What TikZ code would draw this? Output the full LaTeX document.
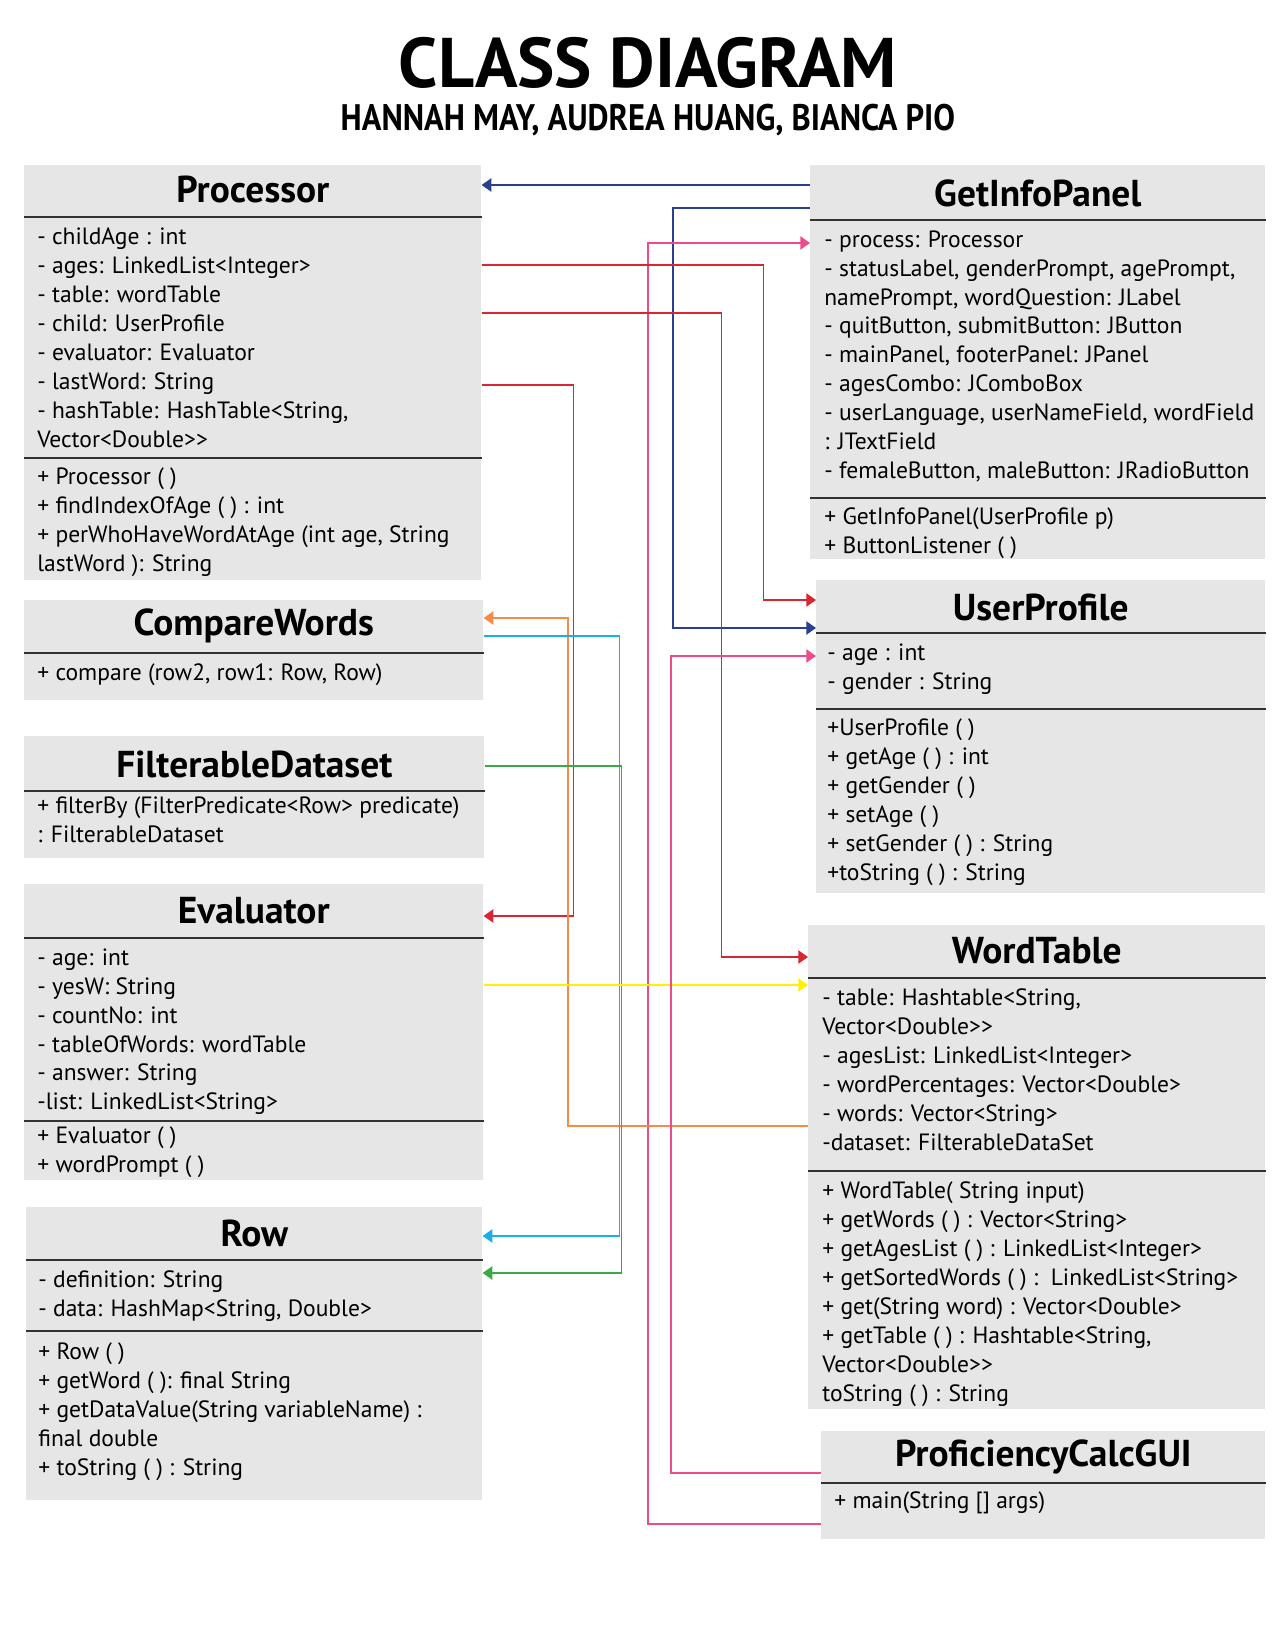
\documentclass[tikz,border=0pt]{standalone}
\usepackage{fontspec}
\setmainfont{PT Sans}
\newfontfamily\condfont[FakeStretch=0.88]{PT Sans}
\usepackage{xcolor}
\usetikzlibrary{arrows.meta}

\definecolor{boxgray}{HTML}{E6E6E6}
\definecolor{rulegray}{HTML}{333333}
\definecolor{navyline}{HTML}{2B3F92}
\definecolor{redline}{HTML}{D92632}
\definecolor{pinkline}{HTML}{EE4B8B}
\definecolor{orangeline}{HTML}{F58A4B}
\definecolor{cyanline}{HTML}{1CAEEB}
\definecolor{greenline}{HTML}{3AAA48}
\definecolor{yellowline}{HTML}{FFF200}

\begin{document}
\begin{tikzpicture}[
    x=0.02cm,
    y=-0.02cm,
    >={Triangle[length=5.5pt,width=7.5pt]},
    classbox/.style={fill=boxgray, anchor=north west, inner sep=0pt},
    classname/.style={font=\fontsize{21.3pt}{24pt}\selectfont\bfseries},
    members/.style={anchor=north west, align=left, inner sep=0pt, font=\fontsize{13.4pt}{16.5pt}\selectfont},
    divider/.style={draw=rulegray, line width=1pt},
    link/.style={->, line width=1pt}
]
\path[use as bounding box] (0,0) rectangle (1275,1650);

% heading
\node[font=\fontsize{40pt}{44pt}\selectfont\bfseries] (title) at (648,63) {CLASS DIAGRAM};
\node[font=\condfont\bfseries\fontsize{21pt}{24pt}\selectfont] (authors) at (648,120) {HANNAH MAY, AUDREA HUANG, BIANCA PIO};

% left column
\node[classbox, minimum width=9.14cm, minimum height=8.30cm] (proc) at (24,165) {};
\node[classname] (proc-name) at (proc.north |- 0,189) {Processor};
\draw[divider] (proc.west |- 0,217) -- (proc.east |- 0,217);
\node[members] (proc-attr) at (37,227) {- childAge : int\\- ages: LinkedList<Integer>\\- table: wordTable\\- child: UserProfile\\- evaluator: Evaluator\\- lastWord: String\\- hashTable: HashTable<String,\\Vector<Double>{}>};
\draw[divider] (proc.west |- 0,458) -- (proc.east |- 0,458);
\node[members] (proc-ops) at (37,467) {+ Processor ( )\\+ findIndexOfAge ( ) : int\\+ perWhoHaveWordAtAge (int age, String\\lastWord ): String};

\node[classbox, minimum width=9.18cm, minimum height=2.00cm] (cw) at (24,600) {};
\node[classname] (cw-name) at (cw.north |- 0,626) {CompareWords};
\draw[divider] (cw.west |- 0,653) -- (cw.east |- 0,653);
\node[members] (cw-ops) at (37,663) {+ compare (row2, row1: Row, Row)};

\node[classbox, minimum width=9.20cm, minimum height=2.44cm] (fd) at (24,736) {};
\node[classname] (fd-name) at (fd.north |- 0,764) {FilterableDataset};
\draw[divider] (fd.west |- 0,791) -- (fd.east |- 0,791);
\node[members] (fd-ops) at (37,796) {+ filterBy (FilterPredicate<Row> predicate)\\: FilterableDataset};

\node[classbox, minimum width=9.18cm, minimum height=5.92cm] (eval) at (24,884) {};
\node[classname] (eval-name) at (eval.north |- 0,911) {Evaluator};
\draw[divider] (eval.west |- 0,938) -- (eval.east |- 0,938);
\node[members] (eval-attr) at (37,948) {- age: int\\- yesW: String\\- countNo: int\\- tableOfWords: wordTable\\- answer: String\\-list: LinkedList<String>};
\draw[divider] (eval.west |- 0,1121) -- (eval.east |- 0,1121);
\node[members] (eval-ops) at (37,1126) {+ Evaluator ( )\\+ wordPrompt ( )};

\node[classbox, minimum width=9.12cm, minimum height=5.86cm] (row) at (26,1207) {};
\node[classname] (row-name) at (row.north |- 0,1233) {Row};
\draw[divider] (row.west |- 0,1260) -- (row.east |- 0,1260);
\node[members] (row-attr) at (38,1270) {- definition: String\\- data: HashMap<String, Double>};
\draw[divider] (row.west |- 0,1331) -- (row.east |- 0,1331);
\node[members] (row-ops) at (38,1342) {+ Row ( )\\+ getWord ( ): final String\\+ getDataValue(String variableName) :\\final double\\+ toString ( ) : String};

% right column
\node[classbox, minimum width=9.10cm, minimum height=7.88cm] (gip) at (810,165) {};
\node[classname] (gip-name) at (gip.north |- 0,193) {GetInfoPanel};
\draw[divider] (gip.west |- 0,220) -- (gip.east |- 0,220);
\node[members] (gip-attr) at (824,230) {- process: Processor\\- statusLabel, genderPrompt, agePrompt,\\namePrompt, wordQuestion: JLabel\\- quitButton, submitButton: JButton\\- mainPanel, footerPanel: JPanel\\- agesCombo: JComboBox\\- userLanguage, userNameField, wordField\\: JTextField\\- femaleButton, maleButton: JRadioButton};
\draw[divider] (gip.west |- 0,498) -- (gip.east |- 0,498);
\node[members] (gip-ops) at (824,507) {+ GetInfoPanel(UserProfile p)\\+ ButtonListener ( )};

\node[classbox, minimum width=8.98cm, minimum height=6.26cm] (up) at (816,580) {};
\node[classname] (up-name) at (up.north |- 0,607) {UserProfile};
\draw[divider] (up.west |- 0,633) -- (up.east |- 0,633);
\node[members] (up-attr) at (827,643) {- age : int\\- gender : String};
\draw[divider] (up.west |- 0,709) -- (up.east |- 0,709);
\node[members] (up-ops) at (827,718) {+UserProfile ( )\\+ getAge ( ) : int\\+ getGender ( )\\+ setAge ( )\\+ setGender ( ) : String\\+toString ( ) : String};

\node[classbox, minimum width=9.14cm, minimum height=9.68cm] (wt) at (808,925) {};
\node[classname] (wt-name) at (wt.north |- 0,951) {WordTable};
\draw[divider] (wt.west |- 0,978) -- (wt.east |- 0,978);
\node[members] (wt-attr) at (822,988) {- table: Hashtable<String,\\Vector<Double>{}>\\- agesList: LinkedList<Integer>\\- wordPercentages: Vector<Double>\\- words: Vector<String>\\-dataset: FilterableDataSet};
\draw[divider] (wt.west |- 0,1171) -- (wt.east |- 0,1171);
\node[members] (wt-ops) at (822,1181) {+ WordTable( String input)\\+ getWords ( ) : Vector<String>\\+ getAgesList ( ) : LinkedList<Integer>\\+ getSortedWords ( ) :\ \ LinkedList<String>\\+ get(String word) : Vector<Double>\\+ getTable ( ) : Hashtable<String,\\Vector<Double>{}>\\toString ( ) : String};

\node[classbox, minimum width=8.88cm, minimum height=2.16cm] (pcg) at (821,1431) {};
\node[classname] (pcg-name) at (pcg.north |- 0,1457) {ProficiencyCalcGUI};
\draw[divider] (pcg.west |- 0,1483) -- (pcg.east |- 0,1483);
\node[members] (pcg-ops) at (834,1491) {+ main(String [] args)};

% connectors
\draw[link, navyline] (gip.west |- 0,185) -- (proc.east |- 0,185);
\draw[link, navyline] (gip.west |- 0,208) -- ++(-137,0) |- (up.west |- 0,628);
\draw[link, pinkline] (pcg.west |- 0,1524) -- ++(-173,0) |- (gip.west |- 0,243);
\draw[link, redline] (proc.east |- 0,265) -- ++(282,0) |- (up.west |- 0,600);
\draw[link, redline] (proc.east |- 0,313) -- ++(240,0) |- (wt.west |- 0,957);
\draw[link, redline] (proc.east |- 0,385) -- ++(92,0) |- (eval.east |- 0,916);
\draw[link, orangeline] (wt.west |- 0,1126) -- ++(-240,0) |- (cw.east |- 0,618);
\draw[link, cyanline] (cw.east |- 0,636) -- ++(136,0) |- (row.east |- 0,1236);
\draw[link, greenline] (fd.east |- 0,766) -- ++(137,0) |- (row.east |- 0,1273);
\draw[link, yellowline] (eval.east |- 0,985) -- (wt.west |- 0,985);
\draw[link, pinkline] (pcg.west |- 0,1473) -- ++(-150,0) |- (up.west |- 0,656);
\end{tikzpicture}
\end{document}
